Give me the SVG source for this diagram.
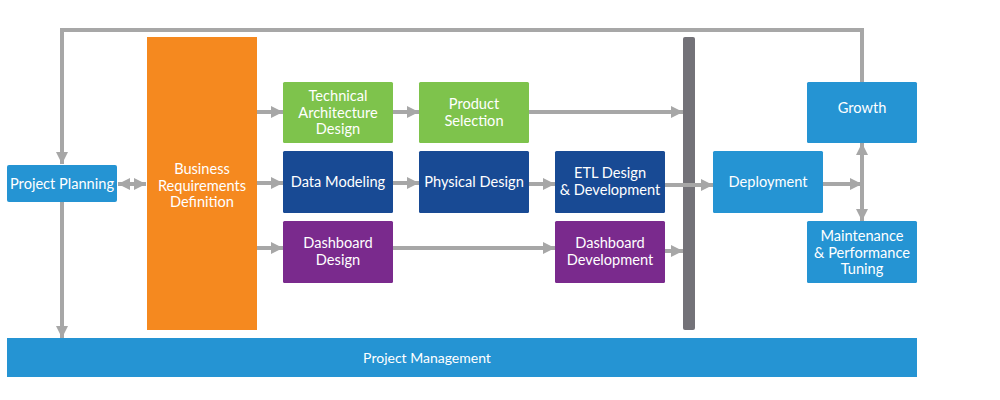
<svg xmlns="http://www.w3.org/2000/svg" width="1000" height="400" viewBox="0 0 1000 400">
<defs>
<marker id="ah" viewBox="0 0 12 12" refX="12" refY="6" markerWidth="12" markerHeight="12" markerUnits="userSpaceOnUse" orient="auto-start-reverse">
<path d="M0,0 L12,6 L0,12 Z" fill="#A7A7A7"/>
</marker>
<style>
.c{fill:none;stroke:#A7A7A7;stroke-width:4}
.t{font-family:Lato,"Open Sans",sans-serif;font-size:14.6px;fill:#fff;text-anchor:middle}
.blue{fill:#2594D3}
.green{fill:#7EC34C}
.navy{fill:#184A94}
.purple{fill:#7A2A8D}
.orange{fill:#F5891F}
</style>
</defs>
<rect width="1000" height="400" fill="#fff"/>
<g id="bar"><rect x="683" y="37" width="12" height="293" rx="2" fill="#737278"/></g>
<g id="project-management"><rect class="blue" x="7" y="338" width="910" height="39"/><text class="t" x="427" y="363" style="font-size:14px">Project Management</text></g>
<g id="project-planning"><rect class="blue" x="7" y="165" width="110" height="37" rx="2"/><text class="t" x="62" y="189">Project Planning</text></g>
<g id="business-requirements"><rect class="orange" x="147" y="37" width="110" height="293"/><text class="t" x="202" y="174">Business</text><text class="t" x="202" y="190.5">Requirements</text><text class="t" x="202" y="207">Definition</text></g>
<g id="technical-architecture"><rect class="green" x="283" y="82" width="110" height="61" rx="1.5"/><text class="t" x="338" y="101">Technical</text><text class="t" x="338" y="117.5">Architecture</text><text class="t" x="338" y="134">Design</text></g>
<g id="product-selection"><rect class="green" x="419" y="82" width="110" height="61" rx="1.5"/><text class="t" x="474" y="109">Product</text><text class="t" x="474" y="125.5">Selection</text></g>
<g id="data-modeling"><rect class="navy" x="283" y="151" width="110" height="62" rx="1.5"/><text class="t" x="338" y="187">Data Modeling</text></g>
<g id="physical-design"><rect class="navy" x="419" y="151" width="110" height="62" rx="1.5"/><text class="t" x="474" y="187">Physical Design</text></g>
<g id="etl"><rect class="navy" x="555" y="151" width="110" height="62" rx="1.5"/><text class="t" x="610" y="178">ETL Design</text><text class="t" x="610" y="194.5">&amp; Development</text></g>
<g id="dashboard-design"><rect class="purple" x="283" y="221" width="110" height="62" rx="1.5"/><text class="t" x="338" y="248">Dashboard</text><text class="t" x="338" y="264.5">Design</text></g>
<g id="dashboard-development"><rect class="purple" x="555" y="221" width="110" height="62" rx="1.5"/><text class="t" x="610" y="248">Dashboard</text><text class="t" x="610" y="264.5">Development</text></g>
<g id="deployment"><rect class="blue" x="713" y="151" width="110" height="62" rx="1.5"/><text class="t" x="768" y="187">Deployment</text></g>
<g id="growth"><rect class="blue" x="807" y="82" width="110" height="61" rx="1.5"/><text class="t" x="862" y="113">Growth</text></g>
<g id="maintenance"><rect class="blue" x="807" y="221" width="110" height="62" rx="1.5"/><text class="t" x="862" y="241">Maintenance</text><text class="t" x="862" y="257.5">&amp; Performance</text><text class="t" x="862" y="274">Tuning</text></g>
<g id="connectors">
<path class="c" d="M862,82 V30 H62 V164" marker-end="url(#ah)"/>
<path class="c" d="M62,202 V338" marker-end="url(#ah)"/>
<path class="c" d="M118,184 H146" marker-start="url(#ah)" marker-end="url(#ah)"/>
<path class="c" d="M257,112 H283" marker-end="url(#ah)"/>
<path class="c" d="M393,112 H419" marker-end="url(#ah)"/>
<path class="c" d="M529,112 H683" marker-end="url(#ah)"/>
<path class="c" d="M257,183 H283" marker-end="url(#ah)"/>
<path class="c" d="M393,183 H419" marker-end="url(#ah)"/>
<path class="c" d="M529,184 H555" marker-end="url(#ah)"/>
<path class="c" d="M665,185 H713" marker-end="url(#ah)"/>
<path class="c" d="M257,248 H283" marker-end="url(#ah)"/>
<path class="c" d="M393,248 H555" marker-end="url(#ah)"/>
<path class="c" d="M665,251 H683" marker-end="url(#ah)"/>
<path class="c" d="M823,184 H862" marker-end="url(#ah)"/>
<path class="c" d="M862,143 V221" marker-start="url(#ah)" marker-end="url(#ah)"/>
</g>
</svg>
